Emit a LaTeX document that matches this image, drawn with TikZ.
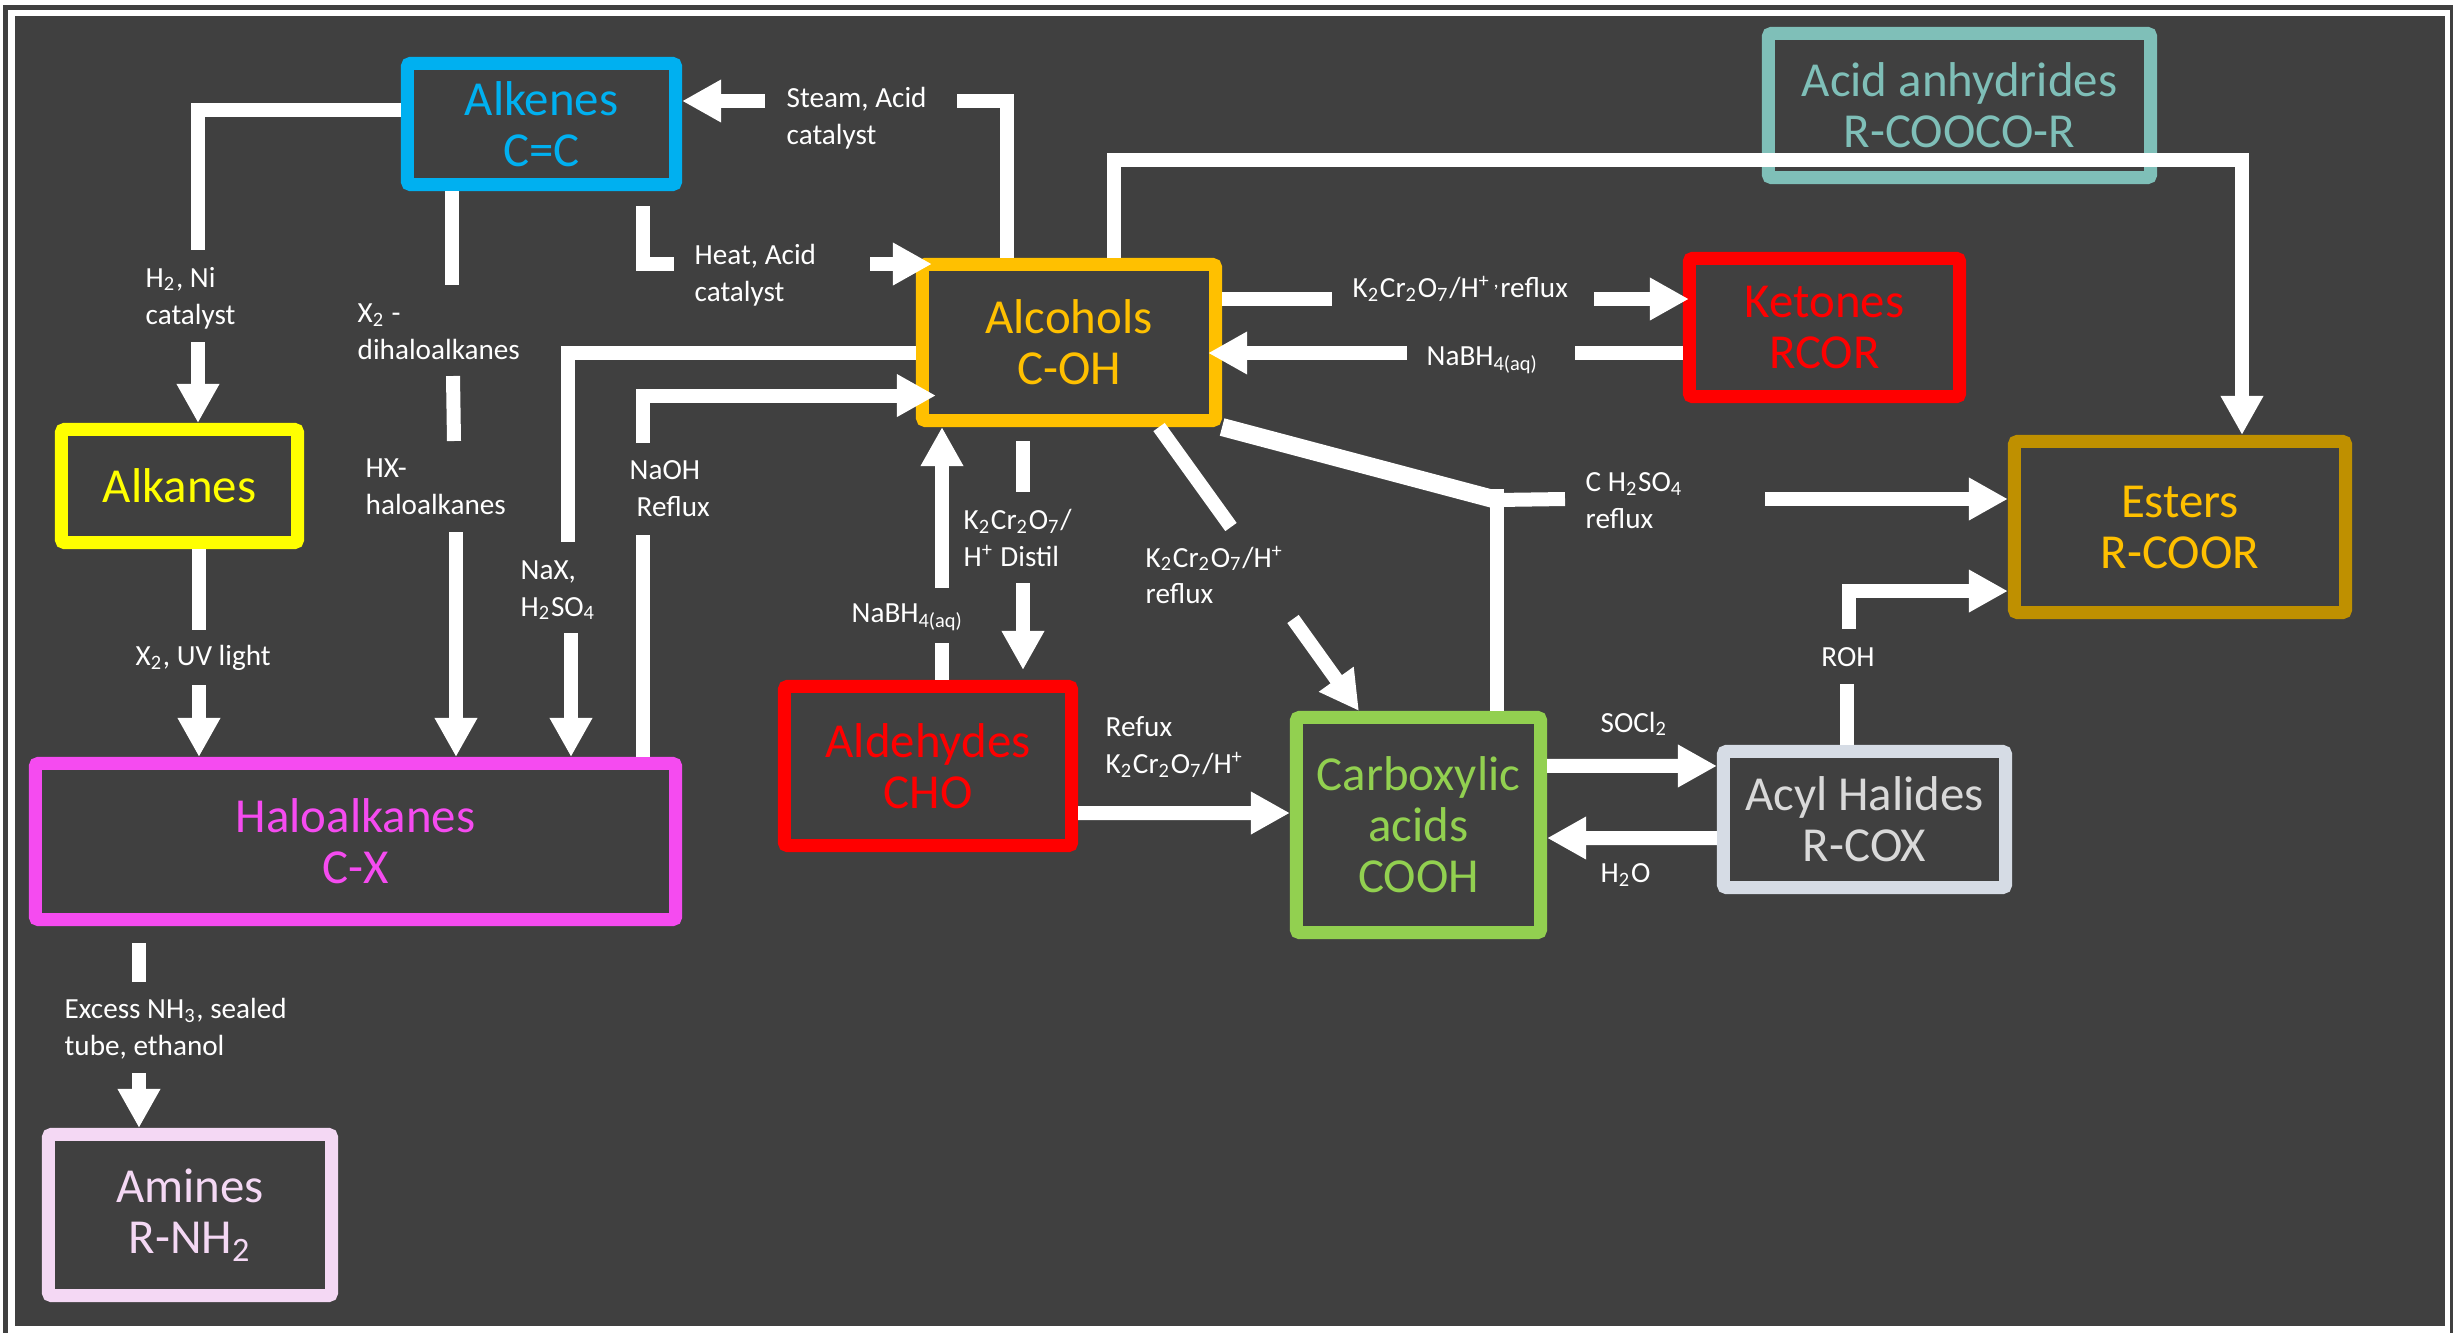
\documentclass[tikz,border=0pt]{standalone}
\usepackage{fontspec}
\setmainfont{Carlito}
\usetikzlibrary{arrows.meta}

\definecolor{bgdark}{HTML}{404040}
\definecolor{alkenecol}{HTML}{00B0F0}
\definecolor{alkanecol}{HTML}{FFFF00}
\definecolor{halocol}{HTML}{F54BF0}
\definecolor{aminecol}{HTML}{F4D8F4}
\definecolor{alcoholcol}{HTML}{FFC000}
\definecolor{redcol}{HTML}{FF0000}
\definecolor{anhydcol}{HTML}{7FBFB8}
\definecolor{estercol}{HTML}{BF9000}
\definecolor{acidcol}{HTML}{92D050}
\definecolor{acylcol}{HTML}{D6DCE5}
\definecolor{acyltext}{HTML}{D9D9D9}

\newcommand{\boxfont}{\fontsize{13.9}{14.5}\selectfont}
\newcommand{\lblfont}{\fontsize{8.3}{10.5}\selectfont}
\newcommand{\dichromate}{K\textsubscript{2}Cr\textsubscript{2}O\textsubscript{7}}

\tikzset{
  box/.style={draw=#1, text=#1, line width=0.13cm, rounded corners=0.03cm,
    align=center, font=\boxfont, inner sep=0pt},
  lbl/.style={text=white, font=\lblfont, align=left, inner sep=0pt},
  wline/.style={draw=white, line width=0.14cm},
  warrow/.style={wline, -{Triangle[width=0.4cm,length=0.39cm]}},
}

\begin{document}
\begin{tikzpicture}[x=0.01cm, y=-0.01cm]
    \useasboundingbox (0,0) rectangle (2453,1333);
    % Frame
    \fill[white] (0,0) rectangle (2453,1333);
    \fill[bgdark] (3,5) rectangle (2453,1333);
    \fill[white] (8,10) rectangle (2450,1333);
    \fill[bgdark] (15,16) rectangle (2445,1326);

    % Boxes
    \node[box=alkenecol, minimum width=2.68cm, minimum height=1.21cm] (alkenes) at (541.5,124) {Alkenes\\C=C};
    \node[box=alkanecol, minimum width=2.36cm, minimum height=1.13cm] (alkanes) at (179.5,486) {Alkanes};
    \node[box=halocol, minimum width=6.40cm, minimum height=1.56cm] (haloalkanes) at (355.5,841.5) {Haloalkanes\\C-X};
    \node[box=aminecol, minimum width=2.83cm, minimum height=1.61cm] (amines) at (190,1215) {Amines\\R-NH\textsubscript{2}};
    \node[box=alcoholcol, minimum width=2.93cm, minimum height=1.56cm] (alcohols) at (1069,342.5) {Alcohols\\C-OH};
    \node[box=redcol, minimum width=2.87cm, minimum height=1.59cm] (aldehydes) at (928,766) {Aldehydes\\CHO};
    \node[box=redcol, minimum width=2.70cm, minimum height=1.38cm] (ketones) at (1824.5,327.5) {Ketones\\RCOR};
    \node[box=anhydcol, minimum width=3.82cm, minimum height=1.44cm] (anhydrides) at (1959.5,105.5) {Acid anhydrides\\R-COOCO-R};
    \node[box=estercol, text=alcoholcol, minimum width=3.31cm, minimum height=1.71cm] (esters) at (2180,527) {Esters\\R-COOR};
    \node[box=acidcol, minimum width=2.44cm, minimum height=2.15cm] (carboxylic) at (1418.5,825) {Carboxylic\\acids\\COOH};
    \node[box=acylcol, text=acyltext, minimum width=2.82cm, minimum height=1.36cm] (acyl) at (1864.5,819.5) {Acyl Halides\\R-COX};

    % Break points
    \coordinate (hA) at (198,250);
    \coordinate (hB) at (198,342);
    \coordinate (uvA) at (199,630);
    \coordinate (uvB) at (199,685);
    \coordinate (xA) at (452,285);
    \coordinate (xB) at (453,376);
    \coordinate (xC) at (454,441);
    \coordinate (xD) at (456,532);
    \coordinate (naxA) at (568,542);
    \coordinate (naxB) at (571,633);
    \coordinate (naohA) at (643,535);
    \coordinate (naohB) at (643,443);
    \coordinate (stA) at (957,101);
    \coordinate (stB) at (765,101);
    \coordinate (htA) at (674,264);
    \coordinate (htB) at (870,264);
    \coordinate (anB) at (2242,160);
    \coordinate (kA) at (1332,299);
    \coordinate (kB) at (1594,299);
    \coordinate (nkA) at (1575,353);
    \coordinate (nkB) at (1407,353);
    \coordinate (dB) at (1023,492);
    \coordinate (dC) at (1023,583);
    \coordinate (naA) at (942,643);
    \coordinate (naB) at (942,588);
    \coordinate (rxA) at (1231,527);
    \coordinate (rxB) at (1293,619);
    \coordinate (jn) at (1497,500);
    \coordinate (esA) at (1565,499);
    \coordinate (esB) at (1765,499);
    \coordinate (roA) at (1847,684);
    \coordinate (roB) at (1849,629);
    \coordinate (amA) at (139,982);
    \coordinate (amB) at (139,1073);

    % Connections
    \draw[wline] ([yshift=0.14cm]alkenes.west) -| (hA);
    \draw[warrow] (hB) -- (alkanes.north -| hB);
    \draw[wline] (alkanes.south -| uvA) -- (uvA);
    \draw[warrow] (uvB) -- (haloalkanes.north -| uvB);
    \draw[wline] (alkenes.south -| xA) -- (xA);
    \draw[wline] (xB) -- (xC);
    \draw[warrow] (xD) -- (haloalkanes.north -| xD);
    \draw[wline] ([yshift=-0.1cm]alcohols.west) -| (naxA);
    \draw[warrow] (naxB) -- (haloalkanes.north -| naxB);
    \draw[wline] (haloalkanes.north -| naohA) -- (naohA);
    \draw[warrow, shorten >=-0.2cm] (naohB) |- ([yshift=-0.53cm]alcohols.west);
    \draw[wline] ([xshift=-0.62cm]alcohols.north) |- (stA);
    \draw[warrow] (stB) -- (alkenes.east |- stB);
    \draw[wline] ([xshift=1.015cm, yshift=-0.15cm]alkenes.south) |- (htA);
    \draw[warrow, shorten >=-0.16cm] (htB) -- (alcohols.west |- htB);
    \draw[warrow] ([xshift=0.45cm]alcohols.north) |- (anB) -- (esters.north -| anB);
    \draw[wline] (alcohols.east |- kA) -- (kA);
    \draw[warrow, shorten >=-0.06cm] (kB) -- (ketones.west |- kB);
    \draw[wline] (ketones.west |- nkA) -- (nkA);
    \draw[warrow, shorten >=-0.14cm] (nkB) -- (alcohols.east |- nkB);
    \draw[wline] ([yshift=-0.14cm]alcohols.south -| dB) -- (dB);
    \draw[warrow, shorten >=0.1cm] (dC) -- (aldehydes.north -| dC);
    \draw[wline] (aldehydes.north -| naA) -- (naA);
    \draw[warrow] (naB) -- (alcohols.south -| naB);
    \draw[wline] ([xshift=0.9cm]alcohols.south) -- (rxA);
    \draw[warrow] (rxB) -- ([xshift=0.69cm]carboxylic.north west);
    \draw[wline, line width=0.18cm] (alcohols.south east) -- (jn);
    \draw[wline] (carboxylic.north -| jn) -- ([yshift=0.11cm]jn);
    \draw[wline] (jn) -- (esA);
    \draw[warrow] (esB) -- (esters.west |- esB);
    \draw[warrow] ([yshift=-0.47cm]aldehydes.east) -- ([yshift=0.12cm]carboxylic.west);
    \draw[warrow] ([yshift=0.59cm]carboxylic.east) -- ([yshift=0.535cm]acyl.west);
    \draw[warrow] ([yshift=-0.185cm]acyl.west) -- ([yshift=-0.13cm]carboxylic.east);
    \draw[wline] (acyl.north -| roA) -- (roA);
    \draw[warrow] (roB) |- ([yshift=-0.64cm]esters.west);
    \draw[wline] ([yshift=-0.17cm]haloalkanes.south -| amA) -- (amA);
    \draw[warrow] (amB) -- (amines.north -| amB);

    % Conditions
    \node[lbl, anchor=west] (lblSteam) at (786,118) {Steam, Acid\\catalyst};
    \node[lbl, anchor=west] (lblHeat) at (694,275) {Heat, Acid\\catalyst};
    \node[lbl, anchor=west] (lblHtwo) at (145,298) {H\textsubscript{2}, Ni\\catalyst};
    \node[lbl, anchor=west] (lblXtwo) at (357,332) {X\textsubscript{2} -\\dihaloalkanes};
    \node[lbl, anchor=west] (lblHX) at (365,487) {HX-\\haloalkanes};
    \node[lbl, anchor=west] (lblNaX) at (520,590) {NaX,\\H\textsubscript{2}SO\textsubscript{4}};
    \node[lbl, anchor=west] (lblNaOH) at (629,489) {NaOH\\\hspace{0.07cm}Reflux};
    \node[lbl, anchor=west] (lblUV) at (135,658) {X\textsubscript{2}, UV light};
    \node[lbl, anchor=west] (lblNH) at (64,1029) {Excess NH\textsubscript{3}, sealed\\tube, ethanol};
    \node[lbl, anchor=west] (lblKet) at (1352,289) {\dichromate/H\textsuperscript{+ ,}reflux};
    \node[lbl, anchor=west] (lblNaBHk) at (1426,360) {NaBH\textsubscript{4(aq)}};
    \node[lbl, anchor=west] (lblDistil) at (963,538) {\dichromate/\\H\textsuperscript{+} Distil};
    \node[lbl, anchor=west] (lblNaBHa) at (851,617) {NaBH\textsubscript{4(aq)}};
    \node[lbl, anchor=west] (lblReflux) at (1145,575) {\dichromate/H\textsuperscript{+}\\reflux};
    \node[lbl, anchor=west] (lblEster) at (1585,501) {C H\textsubscript{2}SO\textsubscript{4}\\reflux};
    \node[lbl, anchor=west] (lblRefux) at (1105,747) {Refux\\\dichromate/H\textsuperscript{+}};
    \node[lbl, anchor=west] (lblSOCl) at (1600,724) {SOCl\textsubscript{2}};
    \node[lbl, anchor=west] (lblHtwoO) at (1600,875) {H\textsubscript{2}O};
    \node[lbl] (lblROH) at (1848,657) {ROH};
\end{tikzpicture}
\end{document}
